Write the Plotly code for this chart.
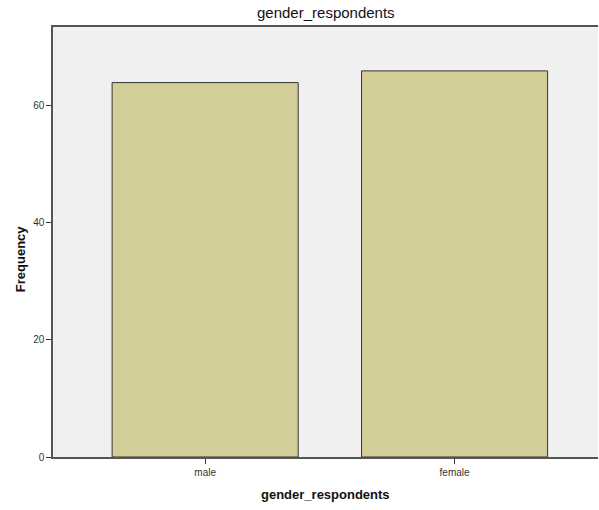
import plotly.graph_objects as go

categories = ["male", "female"]
frequency = [64, 66]
y_ticks = [0, 20, 40, 60]

fig = go.Figure()
fig.add_trace(go.Bar(
    x=categories, y=frequency, width=0.746,
    marker=dict(color="#D3CE97", line=dict(color="#333333", width=1)),
    hoverinfo="skip",
))

fig.update_layout(
    width=599, height=510,
    margin=dict(l=53, r=1, t=27, b=53),
    paper_bgcolor="white", plot_bgcolor="#F0F0F0",
    font=dict(family="Liberation Sans, Arial, sans-serif", color="#333333"),
    showlegend=False,
    xaxis=dict(
        type="category", range=[-0.61, 1.575],
        showline=True, linecolor="#555555", linewidth=1.5, mirror=True,
        ticks="outside", ticklen=5, tickcolor="#333333",
        showgrid=False, tickfont=dict(size=10, color="#333333"),
        fixedrange=True,
    ),
    yaxis=dict(
        range=[0, 73.5], tickvals=y_ticks,
        showline=True, linecolor="#555555", linewidth=1.5,
        ticks="outside", ticklen=5, tickcolor="#333333",
        showgrid=False, zeroline=False, tickfont=dict(size=10, color="#333333"),
        fixedrange=True,
    ),
    annotations=[
        dict(text="gender_respondents", xref="paper", yref="paper", x=0.5, y=1,
             yshift=15, xanchor="center", yanchor="middle", showarrow=False,
             font=dict(size=15, color="#111111")),
        dict(text="<b>gender_respondents</b>", xref="paper", yref="paper", x=0.5, y=0,
             yshift=-37, xanchor="center", yanchor="middle", showarrow=False,
             font=dict(size=13, color="#111111")),
        dict(text="<b>Frequency</b>", xref="paper", yref="paper", x=0, y=0.46,
             xshift=-33, xanchor="center", yanchor="middle", showarrow=False,
             textangle=-90, font=dict(size=13, color="#111111")),
    ],
)

fig.write_html(
    "out.html",
    config={"displayModeBar": False},
    post_script="document.body.style.margin='0';document.body.style.overflow='hidden';",
)
